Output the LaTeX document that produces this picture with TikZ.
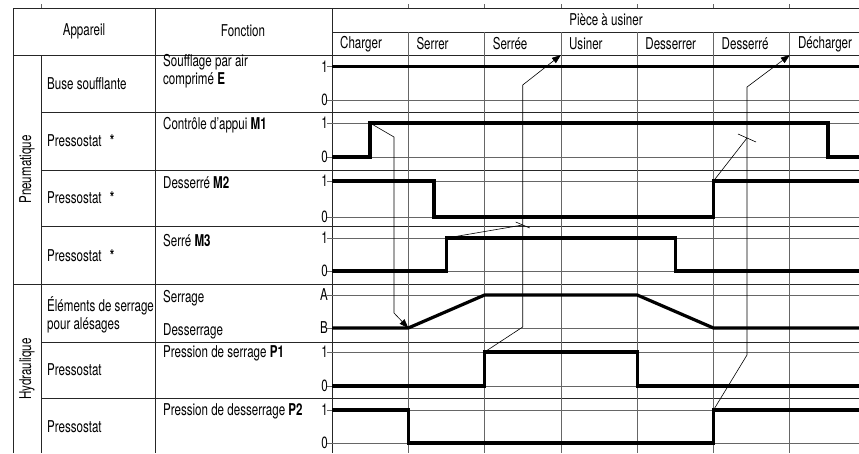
\documentclass[tikz,border=0pt]{standalone}
\usepackage{fontspec}
\setmainfont{TeX Gyre Heros}[FakeStretch=0.71]
\usetikzlibrary{arrows.meta}

\begin{document}
\begin{tikzpicture}[x=1pt, y=-1pt,
    txt/.style={font=\fontsize{16.3}{18}\selectfont, inner sep=0pt},
    lft/.style={txt, anchor=west, align=left},
    lvl/.style={txt, anchor=east},
    rule/.style={black!85, line width=0.8pt},
    grid/.style={black!60, line width=0.8pt},
    signal/.style={line width=3.2pt},
    link/.style={line width=0.6pt},
    arrow/.style={link, -{Triangle[length=9pt, width=6.5pt]}}
]
    \useasboundingbox (0,0) rectangle (859,453);
    \clip (0,0) rectangle (859,453);

    % table
    \draw[rule] (13,453) -- (13,8) -- (859,8);
    \draw[rule] (13,55) -- (859,55);
    \draw[rule] (332,32) -- (859,32);
    \draw[rule] (155,8) -- (155,453);
    \draw[rule] (332,8) -- (332,453);
    \draw[rule] (41,55) -- (41,453);
    \draw[rule] (13,284) -- (859,284);
    \foreach \y in {112.5,170,226.5,342,398}
        \draw[rule] (41,\y) -- (859,\y);
    \foreach \x in {408.3,484.6,560.9,637.2,713.5,789.8} {
        \draw[grid] (\x,32) -- (\x,453);
        \draw[grid] (\x,4) -- (\x,8);
    }
    \draw[grid] (41,4) -- (41,8);
    \foreach \y in {66.5,100,123,157,181,217,238,271,295,328,352,386,410,443}
        \draw[grid] (327,\y) -- (859,\y);

    % headers
    \node[txt] (appareil) at (84,31) {Appareil};
    \node[txt] (fonction) at (243,31) {Fonction};
    \node[txt] (piece) at (606,20) {Pièce à usiner};
    \foreach \x/\t [count=\i] in {332/Charger, 408.3/Serrer, 484.6/Serrée, 560.9/Usiner,
            637.2/Desserrer, 713.5/Desserré, 789.8/Décharger}
        \node[txt, anchor=west] (phase\i) at (\x+8,44) {\t};

    \node[txt, rotate=90] (pneu) at (27,169.5) {Pneumatique};
    \node[txt, rotate=90] (hydr) at (27,369) {Hydraulique};

    \node[lft] (buse) at (47,84) {Buse soufflante};
    \node[lft] (pressA) at (47,141) {Pressostat\enspace\textbf{*}};
    \node[lft] (pressB) at (47,198) {Pressostat\enspace\textbf{*}};
    \node[lft] (pressC) at (47,255.5) {Pressostat\enspace\textbf{*}};
    \node[lft] (elements) at (47,315) {Éléments de serrage\\pour alésages};
    \node[lft] (pressD) at (47,370) {Pressostat};
    \node[lft] (pressE) at (47,427) {Pressostat};

    \node[lft] (funE) at (163,71) {Soufflage par air\\comprimé \textbf{E}};
    \node[lft] (funM1) at (163,125) {Contrôle d’appui \textbf{M1}};
    \node[lft] (funM2) at (163,183) {Desserré \textbf{M2}};
    \node[lft] (funM3) at (163,241) {Serré \textbf{M3}};
    \node[lft] (funA) at (163,298) {Serrage};
    \node[lft] (funB) at (163,331) {Desserrage};
    \node[lft] (funP1) at (163,353) {Pression de serrage \textbf{P1}};
    \node[lft] (funP2) at (163,411) {Pression de desserrage \textbf{P2}};

    \foreach \y/\t [count=\i] in {66.5/1,100/0,123/1,157/0,181/1,217/0,238/1,271/0,
            295/A,328/B,352/1,386/0,410/1,443/0}
        \node[lvl] (level\i) at (328,\y) {\t};

    % signals
    \draw[signal] (332,66.5) -- (859,66.5);
    \draw[signal] (332,157) -- (370,157) -- (370,123) -- (828,123) -- (828,157) -- (859,157);
    \draw[signal] (332,181) -- (434,181) -- (434,217) -- (713.5,217) -- (713.5,181) -- (859,181);
    \draw[signal] (332,271) -- (446.7,271) -- (446.7,238) -- (675.3,238) -- (675.3,271) -- (859,271);
    \draw[signal] (332,328) -- (408.3,328) -- (484.6,295) -- (637.2,295) -- (713.5,328) -- (859,328);
    \draw[signal] (332,386) -- (484.6,386) -- (484.6,352) -- (637.2,352) -- (637.2,386) -- (859,386);
    \draw[signal] (332,410) -- (408.3,410) -- (408.3,443) -- (713.5,443) -- (713.5,410) -- (859,410);

    % links
    \coordinate (m1up) at (370,123);
    \coordinate (bstart) at (408.3,328);
    \draw[arrow] (m1up) -- (394,137) -- (394,313) -- (bstart);

    \coordinate (m3up) at (446.7,238);
    \coordinate (m3end) at (522.7,225);
    \draw[link] (m3up) -- (m3end);
    \draw[link] (m3end) ++(-7,-3) -- ++(14,6);

    \coordinate (p1up) at (484.6,352);
    \coordinate (usiner) at (560.9,55);
    \draw[arrow] (p1up) -- (522.7,327) -- (522.7,85) -- (usiner);

    \coordinate (m2up) at (713.5,181);
    \coordinate (m2end) at (747,138);
    \draw[link] (m2up) -- (m2end);
    \draw[link] (m2end) ++(-9,-4) -- ++(18,8);

    \coordinate (p2up) at (713.5,410);
    \coordinate (decharger) at (789.8,55);
    \draw[arrow] (p2up) -- (747,355) -- (747,87) -- (decharger);
\end{tikzpicture}
\end{document}
